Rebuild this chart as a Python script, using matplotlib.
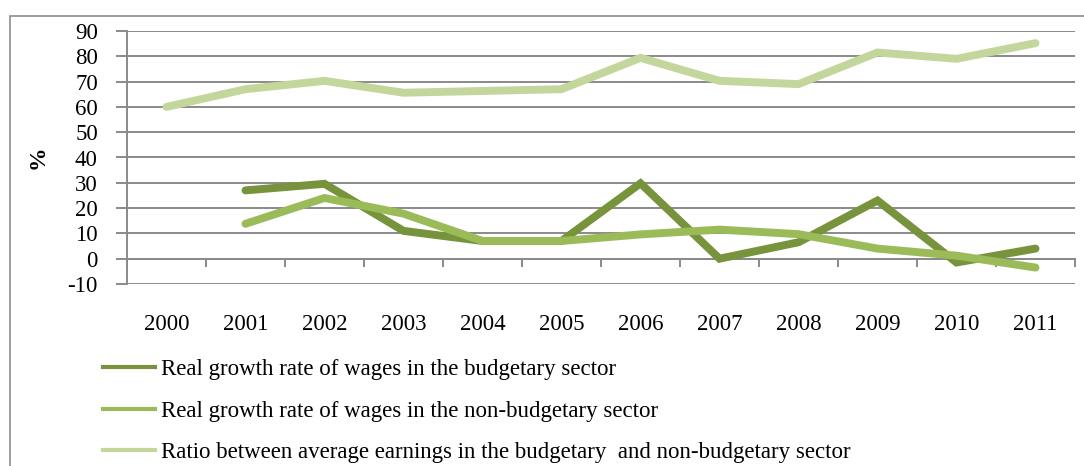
import matplotlib
matplotlib.use("Agg")
import matplotlib.pyplot as plt
from matplotlib.patches import Rectangle
from matplotlib.lines import Line2D

years = ["2000", "2001", "2002", "2003", "2004", "2005", "2006", "2007", "2008", "2009", "2010", "2011"]
budgetary = [None, 27, 29.6, 11, 7, 7, 29.8, 0, 6.5, 23, -1.5, 4]
non_budgetary = [None, 13.8, 24, 17.8, 7, 7, 9.6, 11.5, 9.7, 4, 1.2, -3.5]
ratio = [60, 67, 70.3, 65.6, 66.3, 67, 79.4, 70.3, 69, 81.5, 79, 85.2]
yticks = [-10, 0, 10, 20, 30, 40, 50, 60, 70, 80, 90]
labels = ["Real growth rate of wages in the budgetary sector",
          "Real growth rate of wages in the non-budgetary sector",
          "Ratio between average earnings in the budgetary  and non-budgetary sector"]
colors = ["#77933C", "#9BBB59", "#C3D69B"]

W, H = 1084, 466
plt.rcParams['font.family'] = ['Liberation Serif', 'DejaVu Serif']
fig = plt.figure(figsize=(W / 100, H / 100), dpi=100)

# outer chart frame
fig.patches.append(Rectangle((10 / W, -0.05), 1.2, (H - 16) / H + 0.05, transform=fig.transFigure,
                             fill=False, edgecolor="#8c8c8c", linewidth=1.2))

ax = fig.add_axes([127 / W, (H - 284) / H, (1075 - 127) / W, (284 - 31) / H])
ax.set_facecolor("none")
x = list(range(len(years)))

def series(vals):
    xs = [i for i, v in zip(x, vals) if v is not None]
    ys = [v for v in vals if v is not None]
    return xs, ys

for vals, c in zip([budgetary, non_budgetary, ratio], colors):
    xs, ys = series(vals)
    ax.plot(xs, ys, color=c, linewidth=5.7, solid_capstyle="round", solid_joinstyle="miter", zorder=3)

ax.set_xlim(-0.5, len(years) - 0.5)
ax.set_ylim(-10, 90)
ax.set_yticks(yticks)
ax.set_yticklabels([str(v) for v in yticks], fontsize=16.5)
ax.yaxis.grid(True, color="#8a8a8a", linewidth=1.4, zorder=0)
ax.set_axisbelow(True)

for s in ["top", "right"]:
    ax.spines[s].set_visible(False)
ax.spines["left"].set_color("#8a8a8a")
ax.spines["left"].set_linewidth(1.4)
ax.spines["bottom"].set_position(("data", 0))
ax.spines["bottom"].set_color("#8a8a8a")
ax.spines["bottom"].set_linewidth(1.4)

ax.set_xticks(x)
ax.set_xticklabels(years, fontsize=16.5)
ax.set_xticks([i - 0.5 for i in range(len(years) + 1)], minor=True)
ax.tick_params(axis="x", which="major", length=0, pad=40)
ax.tick_params(axis="x", which="minor", length=6, width=1.4, color="#8a8a8a", direction="out")
ax.tick_params(axis="y", which="major", length=8, width=1.4, color="#8a8a8a", pad=13)

fig.text(38 / W, (H - 157) / H, "%", rotation=90, fontsize=17, fontweight="bold",
         ha="center", va="center")

handles = [Line2D([0], [0], color=c, linewidth=3) for c in colors]
fig.legend(handles, labels, loc="upper left", bbox_to_anchor=(103 / W, (H - 359) / H),
           frameon=False, fontsize=16.5, handlelength=2.25, handletextpad=0.3,
           labelspacing=0.9, borderpad=0, borderaxespad=0)

fig.savefig("out.png", dpi=100)
